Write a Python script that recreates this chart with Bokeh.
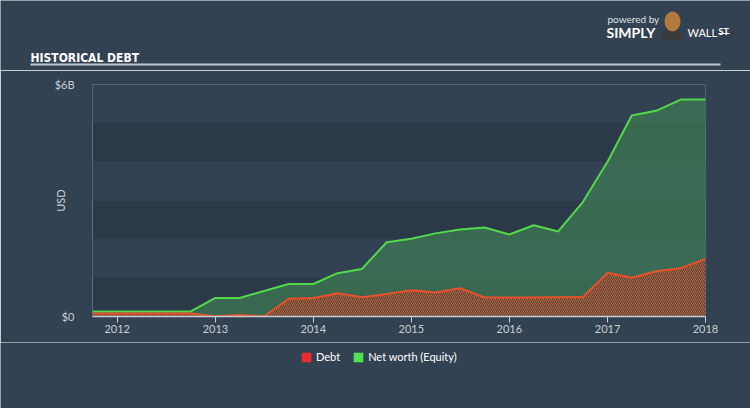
import math
import pandas as pd
from bokeh.plotting import figure
from bokeh.layouts import column
from bokeh.core.properties import value
from bokeh.models import (ColumnDataSource, FixedTicker, YearsTicker, DatetimeTickFormatter,
                          Legend, LegendItem, Range1d)
from bokeh.embed import file_html
from bokeh.resources import INLINE

# ---- data (USD billions) ----
dates = ["2011-10-01", "2012-10-01", "2013-01-01", "2013-04-01", "2013-07-01", "2013-10-01",
         "2014-01-01", "2014-04-01", "2014-07-01", "2014-10-01", "2015-01-01", "2015-04-01",
         "2015-07-01", "2015-10-01", "2016-01-01", "2016-04-01", "2016-07-01", "2016-10-01",
         "2017-01-01", "2017-04-01", "2017-07-01", "2017-10-01", "2018-01-01"]
equity = [0.13, 0.13, 0.48, 0.48, 0.66, 0.84, 0.84, 1.12, 1.23, 1.92, 2.01, 2.15,
          2.25, 2.30, 2.12, 2.36, 2.20, 2.96, 4.00, 5.20, 5.32, 5.61, 5.61]
debt = [0.08, 0.08, 0.00, 0.04, 0.00, 0.46, 0.48, 0.60, 0.50, 0.58, 0.68, 0.62,
        0.73, 0.49, 0.49, 0.49, 0.50, 0.50, 1.13, 1.00, 1.17, 1.25, 1.49]
y_ticks = [0, 6]
y_tick_labels = {0: "$0", 6: "$6B"}
legend_labels = ["Debt", "Net worth (Equity)"]
legend_colors = ["#e52b2b", "#4fe04f"]

BG = "#334252"
DARK = "#2c3949"
TXT = "#c8ced4"
W = 750
H_HEAD, H_MAIN = 70, 272
H_FOOT = 408 - H_HEAD - H_MAIN


def style_fig(f, frame_bg):
    f.background_fill_color = frame_bg
    f.border_fill_color = BG
    f.outline_line_color = frame_bg
    f.outline_line_alpha = 0
    f.outline_line_width = 0


def bare(height):
    f = figure(width=W, height=height, output_backend="svg", toolbar_location=None,
               x_range=Range1d(0, W), y_range=Range1d(height, 0),
               min_border=0, min_border_left=0, min_border_right=0,
               min_border_top=0, min_border_bottom=0)
    try:
        f.frame_align = False
    except Exception:
        pass
    f.axis.visible = False
    f.grid.visible = False
    style_fig(f, BG)
    return f


# ---------- header: title, rule, logo ----------
head = bare(H_HEAD)
head.text(x=[30], y=[57], text=["HISTORICAL DEBT"], text_baseline="alphabetic",
          text_font=value("DejaVu Sans Condensed"),
          text_font_style="bold", text_font_size="12px", text_color="#ffffff")
head.segment(x0=[30], y0=[64], x1=[720], y1=[64], line_color="#c0c8d0", line_width=2)
head.text(x=[607], y=[18], text=["powered by"], text_baseline="alphabetic",
          text_font=value("Lato"), text_font_size="10px", text_color="#dfe3e7")
head.text(x=[606], y=[32], text=["SIMPLY"], text_baseline="alphabetic",
          text_font=value("Lato"), text_font_style="bold", text_font_size="14px",
          text_color="#ffffff")
head.text(x=[687], y=[32], text=["WALL"], text_baseline="alphabetic",
          text_font=value("Lato"), text_font_size="11px", text_color="#ffffff")
head.text(x=[718], y=[31], text=["ST"], text_baseline="alphabetic",
          text_font=value("Lato"), text_font_style="bold", text_font_size="9px",
          text_color="#ffffff")
head.segment(x0=[718], y0=[33], x1=[729], y1=[33], line_color="#ffffff", line_width=1)
# simple mascot
head.wedge(x=[672], y=[40], radius=12, start_angle=math.pi * 0.05, end_angle=math.pi * 0.95,
           direction="anticlock", fill_color="#3a3a3a", line_color=None)
head.ellipse(x=[672], y=[21], width=[16], height=[20], fill_color="#b27a3c", line_color=None)

# ---------- main chart ----------
x = pd.to_datetime(dates)
src = ColumnDataSource(dict(x=x, equity=equity, debt=debt, zero=[0] * len(dates)))

p = figure(width=W, height=H_MAIN, output_backend="svg", toolbar_location=None,
           x_axis_type="datetime",
           x_range=Range1d(pd.Timestamp("2011-10-01"), pd.Timestamp("2018-01-01")),
           y_range=Range1d(0, 6),
           min_border_left=92, min_border_right=45, min_border_top=14, min_border_bottom=26)
style_fig(p, DARK)

# grid bands: 1-2, 3-4, 5-6 lighter
p.xgrid.visible = False
p.ygrid.ticker = FixedTicker(ticks=[0, 1, 2, 3, 4, 5, 6])
p.ygrid.grid_line_color = None
p.ygrid.band_fill_color = BG
p.ygrid.band_fill_alpha = 1.0

p.varea(x="x", y1="zero", y2="equity", source=src, fill_color="#3f7a55", fill_alpha=0.75)
p.line(x="x", y="equity", source=src, line_color="#52d94a", line_width=2)
p.varea(x="x", y1="zero", y2="debt", source=src, fill_color="#4f4a3c", fill_alpha=1.0,
        hatch_pattern="right_diagonal_line", hatch_color="#d4603a", hatch_scale=4,
        hatch_weight=1, hatch_alpha=0.9)
p.line(x="x", y="debt", source=src, line_color="#e8502a", line_width=2)

xa = p.xaxis[0]
xa.ticker = YearsTicker(desired_num_ticks=7)
xa.formatter = DatetimeTickFormatter(years="%Y", months="%Y", days="%Y")
xa.axis_line_color = TXT
xa.axis_line_width = 1.5
xa.major_tick_line_color = TXT
xa.major_tick_out = 6
xa.major_tick_in = 0
xa.minor_tick_line_color = None
xa.major_label_text_color = TXT
xa.major_label_text_font = "Lato"
xa.major_label_text_font_size = "11px"
xa.major_label_standoff = 2

ya = p.yaxis[0]
ya.ticker = FixedTicker(ticks=y_ticks)
ya.major_label_overrides = y_tick_labels
ya.axis_line_color = None
ya.major_tick_line_color = None
ya.minor_tick_line_color = None
ya.major_label_text_color = TXT
ya.major_label_text_font = "Lato"
ya.major_label_text_font_size = "11px"
ya.major_label_standoff = 12
ya.axis_label = "USD"
ya.axis_label_text_color = TXT
ya.axis_label_text_font = "Lato"
ya.axis_label_text_font_style = "normal"
ya.axis_label_text_font_size = "11px"
ya.axis_label_standoff = -15

# ---------- footer: legend ----------
foot = bare(H_FOOT)
sw = [foot.quad(left=[-100], right=[-99], top=[-100], bottom=[-99], fill_color=c, line_color=None)
      for c in legend_colors]
legend = Legend(items=[LegendItem(label=lab, renderers=[r]) for lab, r in zip(legend_labels, sw)],
                orientation="horizontal", location=(300, H_FOOT - 21),
                background_fill_alpha=0, border_line_color=None,
                label_text_color="#ffffff", label_text_font="Lato",
                label_text_font_size="11px", glyph_width=12, glyph_height=12,
                spacing=12, label_standoff=4, padding=0, margin=0, label_height=12)
foot.add_layout(legend, "center")

layout = column(head, p, foot, spacing=0)
html = file_html(layout, INLINE)
html = html.replace("<body>", '<body style="margin:0;background:%s;">' % BG, 1)
open("out.html", "w").write(html)
